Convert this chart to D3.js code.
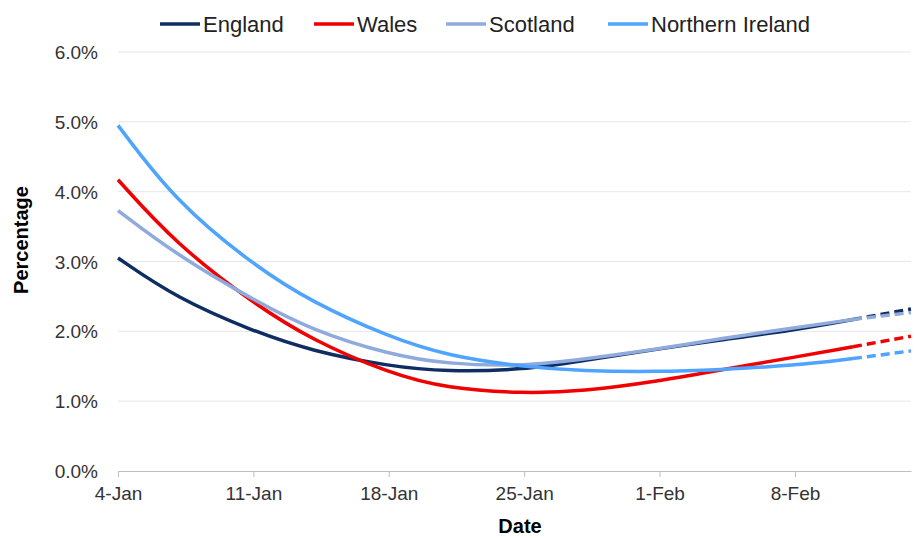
<!DOCTYPE html>
<html><head><meta charset="utf-8">
<script src="https://cdn.jsdelivr.net/npm/d3@7"></script>
<style>body{margin:0;background:#fff;font-family:"Liberation Sans",Arial,sans-serif}</style>
</head><body><svg id="chart" width="915" height="538"></svg>
<script>
// days after 4-Jan, values in %
const englandDays = [0, 3, 7, 10, 14, 17, 21, 24, 28, 31, 35, 38, 41];
const england = [3.05, 2.48, 2.0, 1.72, 1.5, 1.42, 1.45, 1.58, 1.75, 1.87, 2.02, 2.17, 2.32];
const walesDays = [0, 3, 7, 10, 14, 17, 21, 24, 28, 31, 35, 38, 41];
const wales = [4.17, 3.25, 2.4, 1.88, 1.4, 1.18, 1.11, 1.14, 1.29, 1.44, 1.63, 1.78, 1.93];
const scotlandDays = [0, 3, 7, 10, 14, 17, 21, 24, 28, 31, 35, 38, 41];
const scotland = [3.73, 3.1, 2.45, 2.02, 1.67, 1.53, 1.5, 1.6, 1.75, 1.89, 2.05, 2.17, 2.27];
const niDays = [0, 3, 7, 10, 14, 17, 21, 24, 28, 31, 35, 38, 41];
const ni = [4.95, 3.85, 2.95, 2.42, 1.92, 1.65, 1.49, 1.43, 1.42, 1.45, 1.51, 1.61, 1.72];
const seriesNames = ["England", "Wales", "Scotland", "Northern Ireland"];
const xTickDays = [0, 7, 14, 21, 28, 35];
const xTickLabels = ["4-Jan", "11-Jan", "18-Jan", "25-Jan", "1-Feb", "8-Feb"];
const yTicks = [0, 1, 2, 3, 4, 5, 6];
const dashFrom = 38;

const svg = d3.select("#chart");
const x = d3.scaleLinear().domain([0, 41]).range([118, 911]);
const y = d3.scaleLinear().domain([0, 6]).range([471, 52]);
const colors = ["#0e2d62", "#f00000", "#8faadc", "#4ea4ff"];

// gridlines
svg.selectAll(".grid").data(yTicks.slice(1)).enter().append("line")
  .attr("x1", 118).attr("x2", 911)
  .attr("y1", d => y(d)).attr("y2", d => y(d))
  .attr("stroke", "#e6e6e6").attr("stroke-width", 1);

svg.selectAll(".ylab").data(yTicks).enter().append("text")
  .attr("x", 98).attr("y", d => y(d) + 7)
  .attr("text-anchor", "end").attr("font-size", 19).attr("fill", "#333")
  .text(d => d.toFixed(1) + "%");

// x axis
const xAxis = d3.axisBottom(x).tickValues(xTickDays)
  .tickFormat((d, i) => xTickLabels[i]).tickSize(6).tickSizeOuter(0);
const gx = svg.append("g").attr("transform", "translate(0,471)").call(xAxis);
gx.select(".domain").attr("stroke", "#bfbfbf");
gx.selectAll(".tick line").attr("stroke", "#bfbfbf");
gx.selectAll("text").attr("font-size", 19).attr("fill", "#333")
  .attr("font-family", "Liberation Sans, Arial, sans-serif").attr("dy", "1.05em");

svg.append("text").attr("x", 520).attr("y", 533).attr("text-anchor", "middle")
  .attr("font-size", 20).attr("font-weight", "bold").text("Date");
svg.append("text").attr("transform", "translate(28,240) rotate(-90)").attr("text-anchor", "middle")
  .attr("font-size", 20).attr("font-weight", "bold").text("Percentage");

const line = d3.line().x(d => x(d[0])).y(d => y(d[1])).curve(d3.curveBasis);
const all = [[englandDays, england], [walesDays, wales], [scotlandDays, scotland], [niDays, ni]];
[0, 1, 2, 3].forEach(i => {
  const pts = all[i][0].map((d, j) => [d, all[i][1][j]]);
  const solid = pts.filter(p => p[0] <= dashFrom);
  const dash = pts.filter(p => p[0] >= dashFrom);
  svg.append("path").attr("d", line(solid)).attr("fill", "none")
    .attr("stroke", colors[i]).attr("stroke-width", 3.5);
  svg.append("path").attr("d", line(dash)).attr("fill", "none")
    .attr("stroke", colors[i]).attr("stroke-width", 3.5).attr("stroke-dasharray", "9,5");
});

// legend
const legX = [160, 314, 446, 608];
seriesNames.forEach((n, i) => {
  svg.append("line").attr("x1", legX[i]).attr("x2", legX[i] + 40)
    .attr("y1", 24).attr("y2", 24).attr("stroke", colors[i]).attr("stroke-width", 3.5);
  svg.append("text").attr("x", legX[i] + 43).attr("y", 32)
    .attr("font-size", 22).attr("fill", "#222").text(n);
});
</script></body></html>
